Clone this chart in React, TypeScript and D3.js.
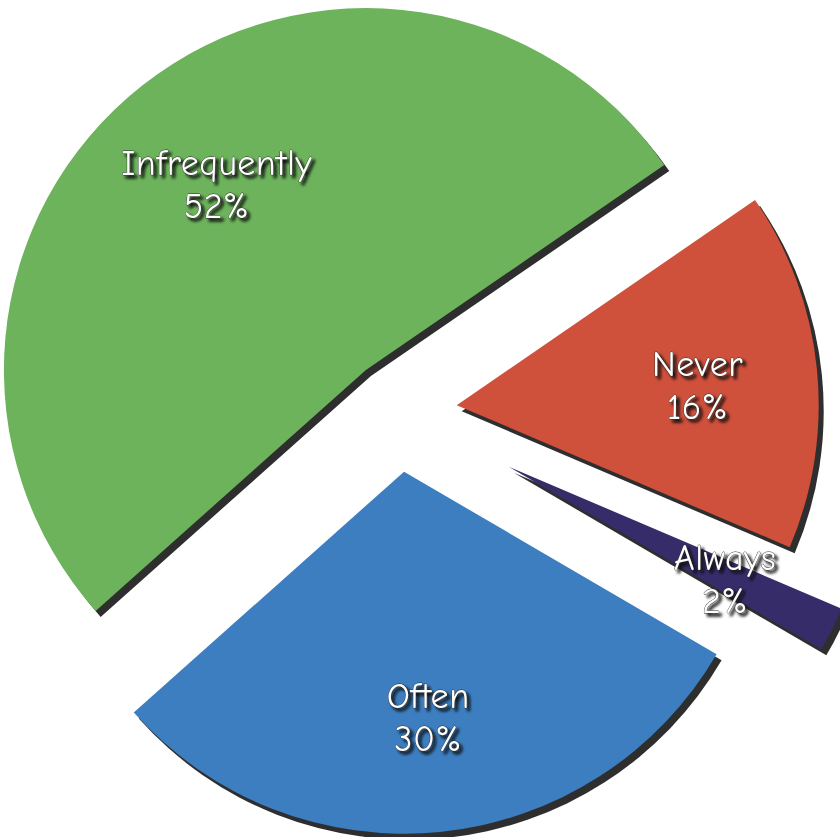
import React from "react";
import * as d3 from "d3";

const categories = ["Never", "Always", "Often", "Infrequently"];
const percents = [16, 2, 30, 52];
const colors = ["#cf503b", "#372c6a", "#3c7ec0", "#6cb35b"];
const explode = [59, 124, 61, 52];

const W = 840;
const H = 837;
const CX = 398;
const CY = 411;
const R = 362;
const START = (55.5 * Math.PI) / 180;

export default function App() {
  const pie = d3
    .pie<number>()
    .sort(null)
    .value((d) => d)
    .startAngle(START)
    .endAngle(START + 2 * Math.PI);
  const arcs = pie(percents);
  const arc = d3.arc<d3.PieArcDatum<number>>().innerRadius(0).outerRadius(R);
  const labelArc = d3
    .arc<d3.PieArcDatum<number>>()
    .innerRadius(242)
    .outerRadius(242);

  const font = "'Comic Sans MS', 'Comic Neue', 'DejaVu Sans', sans-serif";
  const center = (a: d3.PieArcDatum<number>, i: number) => {
    const mid = (a.startAngle + a.endAngle) / 2;
    return [CX + explode[i] * Math.sin(mid), CY - explode[i] * Math.cos(mid)];
  };

  return (
    <div style={{ position: "absolute", left: 0, top: 0 }}>
      <svg width={W} height={H} style={{ display: "block", background: "#fff" }}>
        <defs>
          <filter id="tshadow" x="-20%" y="-30%" width="140%" height="170%">
            <feDropShadow dx="3" dy="3" stdDeviation="1.4" floodColor="#111" floodOpacity="1" />
          </filter>
        </defs>
        {arcs.map((a, i) => {
          const [dx, dy] = center(a, i);
          return (
            <path
              key={"s" + i}
              d={arc(a) || ""}
              fill="#2e2e2e"
              transform={`translate(${dx + 5},${dy + 6})`}
            />
          );
        })}
        {arcs.map((a, i) => {
          const [dx, dy] = center(a, i);
          return (
            <path
              key={"p" + i}
              d={arc(a) || ""}
              fill={colors[i]}
              transform={`translate(${dx},${dy})`}
            />
          );
        })}
        {arcs.map((a, i) => {
          const [dx, dy] = center(a, i);
          const [lx, ly] = labelArc.centroid(a);
          return (
            <text
              key={"l" + i}
              transform={`translate(${dx + lx},${dy + ly})`}
              textAnchor="middle"
              fontFamily={font}
              fontSize={36}
              letterSpacing={0.5}
              fill="#ffffff"
              stroke="#2a2a2a"
              strokeWidth={0.8}
              paintOrder="stroke"
              filter="url(#tshadow)"
            >
              <tspan x={0} y={-5}>
                {categories[i]}
              </tspan>
              <tspan x={0} y={38}>
                {`${percents[i]}%`}
              </tspan>
            </text>
          );
        })}
      </svg>
    </div>
  );
}
